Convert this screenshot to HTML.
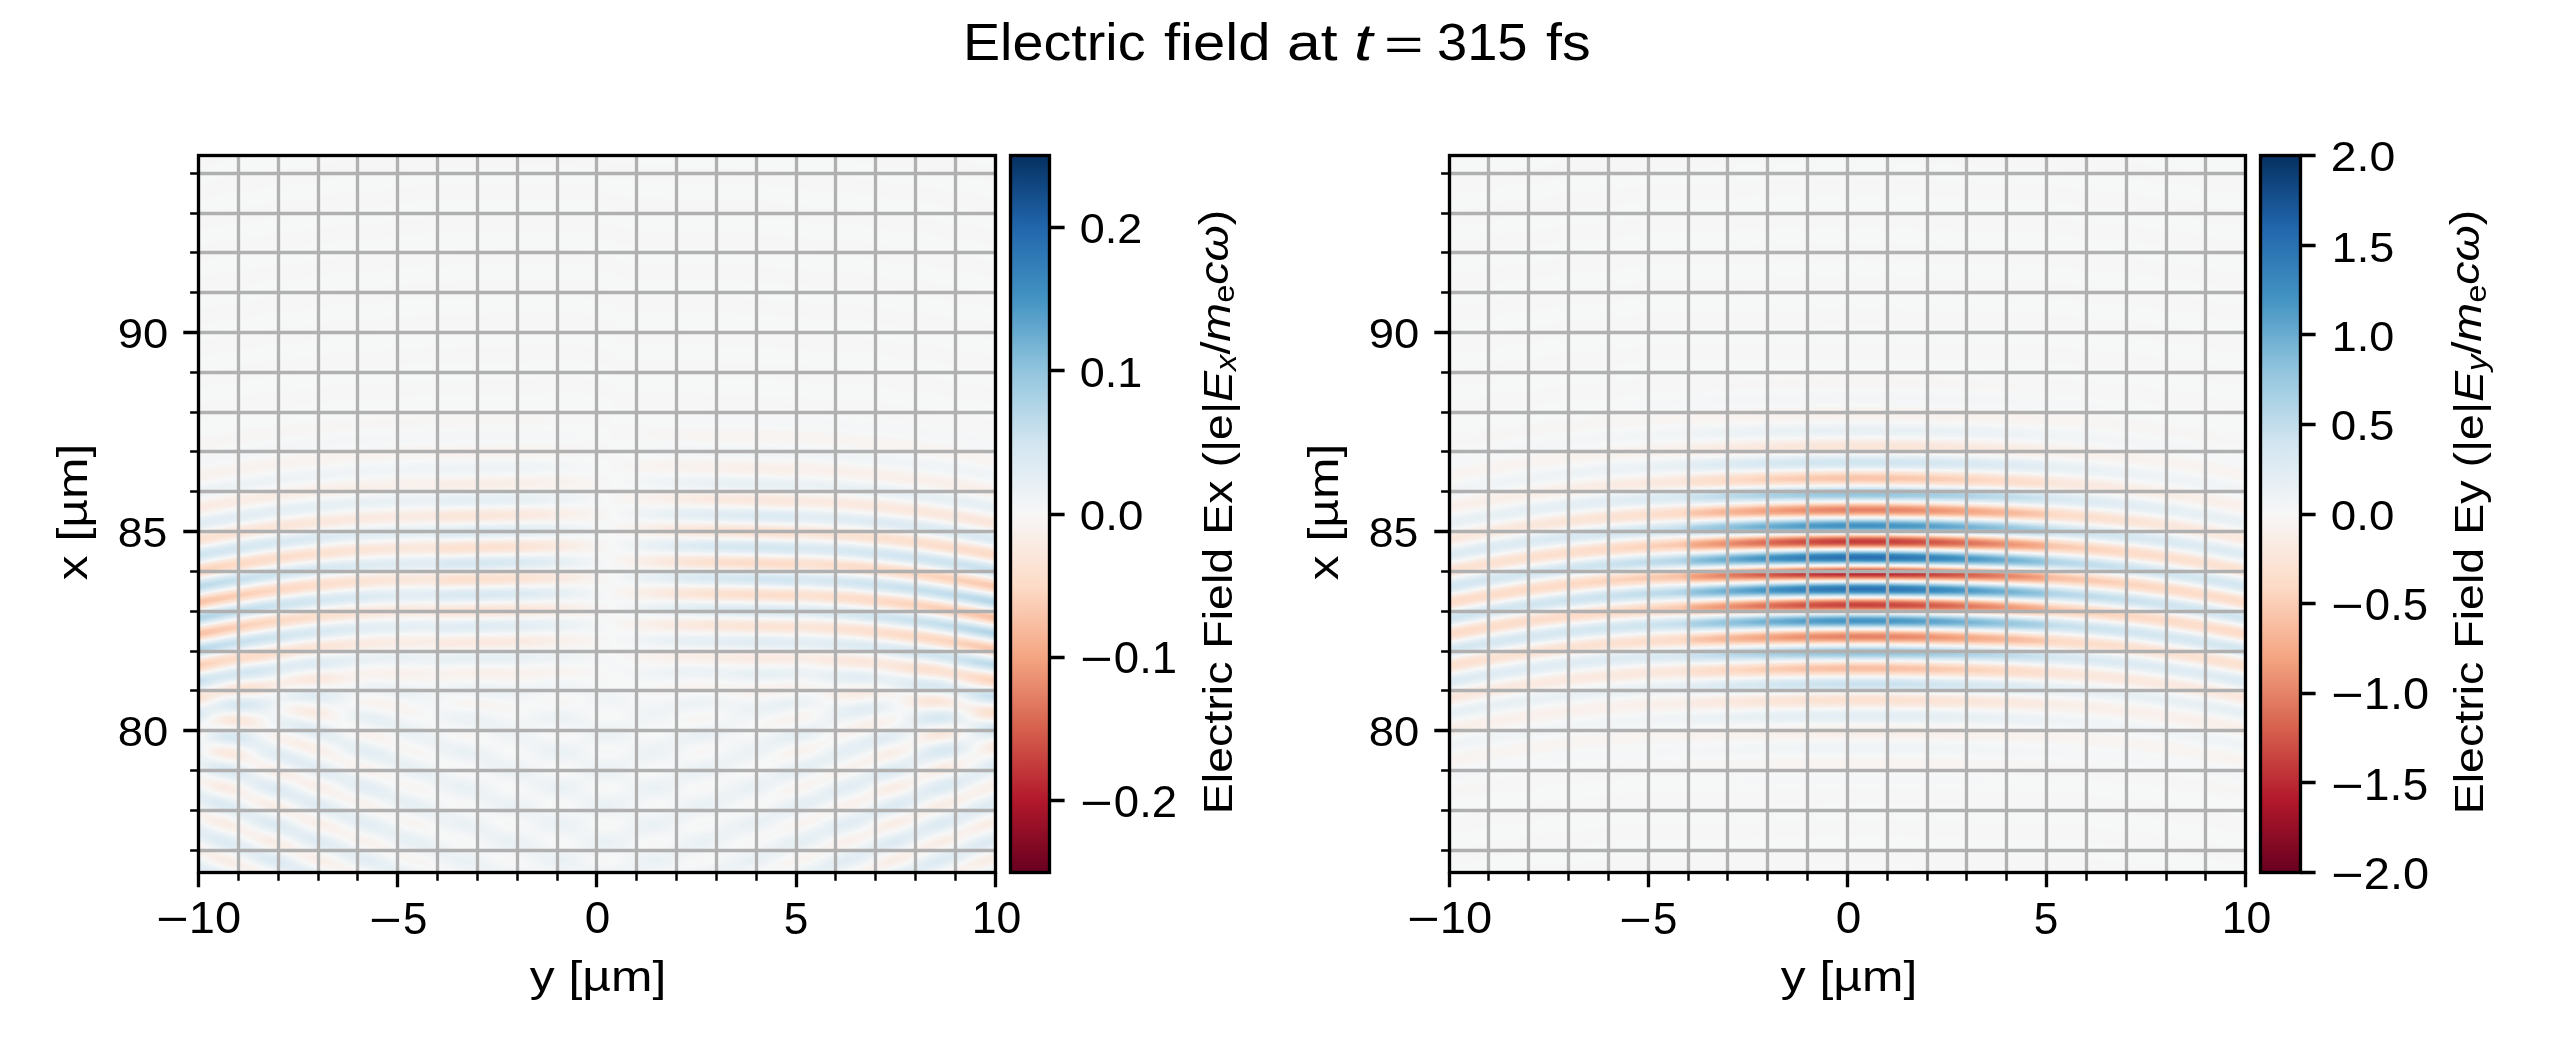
<!DOCTYPE html><html><head><meta charset="utf-8"><title>Electric field at t = 315 fs</title><style>
html,body{margin:0;padding:0;background:#fff;width:2550px;height:1050px;overflow:hidden}
#w{position:relative;width:2550px;height:1050px;background:#fff}
canvas{position:absolute;display:block}
svg{position:absolute;left:0;top:0}
text{font-family:"Liberation Sans",sans-serif;fill:#000}
.it{font-style:italic}
</style></head><body><div id="w">
<svg width="2550" height="1050" style="position:absolute;left:0;top:0"><defs><filter id="fbb" x="0" y="-0.5" width="1" height="2"><feGaussianBlur stdDeviation="0 3.0"/></filter><linearGradient id="fg0" x1="0" y1="0" x2="1" y2="0"><stop offset="0.000" stop-color="#f7f7f7"/><stop offset="0.050" stop-color="#f7f6f6"/><stop offset="0.100" stop-color="#f7f6f5"/><stop offset="0.150" stop-color="#f8f4f3"/><stop offset="0.200" stop-color="#f8f2ef"/><stop offset="0.250" stop-color="#f9f0ea"/><stop offset="0.300" stop-color="#f9ece4"/><stop offset="0.350" stop-color="#fae8dd"/><stop offset="0.400" stop-color="#fbe4d6"/><stop offset="0.450" stop-color="#fce1d1"/><stop offset="0.500" stop-color="#fcdfce"/><stop offset="0.550" stop-color="#fce0cf"/><stop offset="0.600" stop-color="#fce2d3"/><stop offset="0.650" stop-color="#fbe5d9"/><stop offset="0.700" stop-color="#faeae0"/><stop offset="0.750" stop-color="#f9eee7"/><stop offset="0.800" stop-color="#f8f1ec"/><stop offset="0.850" stop-color="#f8f3f1"/><stop offset="0.900" stop-color="#f7f5f4"/><stop offset="0.950" stop-color="#f7f6f5"/><stop offset="1.000" stop-color="#f7f7f6"/></linearGradient><linearGradient id="fg1" x1="0" y1="0" x2="1" y2="0"><stop offset="0.000" stop-color="#f6f7f7"/><stop offset="0.050" stop-color="#f6f6f7"/><stop offset="0.100" stop-color="#f4f6f7"/><stop offset="0.150" stop-color="#f2f5f6"/><stop offset="0.200" stop-color="#eef3f5"/><stop offset="0.250" stop-color="#e9f0f4"/><stop offset="0.300" stop-color="#e1edf3"/><stop offset="0.350" stop-color="#d9e9f2"/><stop offset="0.400" stop-color="#d2e5f0"/><stop offset="0.450" stop-color="#c8e0ed"/><stop offset="0.500" stop-color="#c3deec"/><stop offset="0.550" stop-color="#c4deec"/><stop offset="0.600" stop-color="#cbe2ee"/><stop offset="0.650" stop-color="#d5e7f1"/><stop offset="0.700" stop-color="#ddebf2"/><stop offset="0.750" stop-color="#e4eef4"/><stop offset="0.800" stop-color="#ebf1f5"/><stop offset="0.850" stop-color="#f0f4f6"/><stop offset="0.900" stop-color="#f3f5f6"/><stop offset="0.950" stop-color="#f5f6f7"/><stop offset="1.000" stop-color="#f6f7f7"/></linearGradient><linearGradient id="fg2" x1="0" y1="0" x2="1" y2="0"><stop offset="0.000" stop-color="#f7f6f6"/><stop offset="0.050" stop-color="#f7f6f5"/><stop offset="0.100" stop-color="#f8f4f2"/><stop offset="0.150" stop-color="#f8f2ee"/><stop offset="0.200" stop-color="#f9eee7"/><stop offset="0.250" stop-color="#fae8de"/><stop offset="0.300" stop-color="#fce1d1"/><stop offset="0.350" stop-color="#fcd7c2"/><stop offset="0.400" stop-color="#fac8ae"/><stop offset="0.450" stop-color="#f8bc9f"/><stop offset="0.500" stop-color="#f7b698"/><stop offset="0.550" stop-color="#f7b79a"/><stop offset="0.600" stop-color="#f8c0a4"/><stop offset="0.650" stop-color="#fbceb6"/><stop offset="0.700" stop-color="#fddcc9"/><stop offset="0.750" stop-color="#fbe4d7"/><stop offset="0.800" stop-color="#faebe2"/><stop offset="0.850" stop-color="#f9f0ea"/><stop offset="0.900" stop-color="#f8f3f0"/><stop offset="0.950" stop-color="#f7f5f4"/><stop offset="1.000" stop-color="#f7f6f5"/></linearGradient><linearGradient id="fg3" x1="0" y1="0" x2="1" y2="0"><stop offset="0.000" stop-color="#f6f7f7"/><stop offset="0.050" stop-color="#f5f6f7"/><stop offset="0.100" stop-color="#f2f5f6"/><stop offset="0.150" stop-color="#eef3f5"/><stop offset="0.200" stop-color="#e7eff4"/><stop offset="0.250" stop-color="#ddebf2"/><stop offset="0.300" stop-color="#cfe4ef"/><stop offset="0.350" stop-color="#b7d8e9"/><stop offset="0.400" stop-color="#9fcce2"/><stop offset="0.450" stop-color="#8cc1dc"/><stop offset="0.500" stop-color="#81bad8"/><stop offset="0.550" stop-color="#84bcd9"/><stop offset="0.600" stop-color="#94c6de"/><stop offset="0.650" stop-color="#a8d0e4"/><stop offset="0.700" stop-color="#c1ddeb"/><stop offset="0.750" stop-color="#d5e7f1"/><stop offset="0.800" stop-color="#e1edf3"/><stop offset="0.850" stop-color="#eaf1f5"/><stop offset="0.900" stop-color="#f0f4f6"/><stop offset="0.950" stop-color="#f3f5f6"/><stop offset="1.000" stop-color="#f5f6f7"/></linearGradient><linearGradient id="fg4" x1="0" y1="0" x2="1" y2="0"><stop offset="0.000" stop-color="#f7f6f5"/><stop offset="0.050" stop-color="#f7f5f3"/><stop offset="0.100" stop-color="#f8f3ef"/><stop offset="0.150" stop-color="#f9efe8"/><stop offset="0.200" stop-color="#fae8dd"/><stop offset="0.250" stop-color="#fcdfcd"/><stop offset="0.300" stop-color="#facbb3"/><stop offset="0.350" stop-color="#f6b192"/><stop offset="0.400" stop-color="#ed9475"/><stop offset="0.450" stop-color="#e27b62"/><stop offset="0.500" stop-color="#dd6f59"/><stop offset="0.550" stop-color="#de725b"/><stop offset="0.600" stop-color="#e68469"/><stop offset="0.650" stop-color="#f2a17f"/><stop offset="0.700" stop-color="#f8bc9f"/><stop offset="0.750" stop-color="#fcd5bf"/><stop offset="0.800" stop-color="#fbe3d4"/><stop offset="0.850" stop-color="#faebe2"/><stop offset="0.900" stop-color="#f8f0ec"/><stop offset="0.950" stop-color="#f8f4f1"/><stop offset="1.000" stop-color="#f7f5f4"/></linearGradient><linearGradient id="fg5" x1="0" y1="0" x2="1" y2="0"><stop offset="0.000" stop-color="#f5f6f7"/><stop offset="0.050" stop-color="#f4f5f6"/><stop offset="0.100" stop-color="#f0f4f6"/><stop offset="0.150" stop-color="#e9f0f4"/><stop offset="0.200" stop-color="#dfebf3"/><stop offset="0.250" stop-color="#cfe4ef"/><stop offset="0.300" stop-color="#afd4e6"/><stop offset="0.350" stop-color="#88bfdb"/><stop offset="0.400" stop-color="#5ca3cc"/><stop offset="0.450" stop-color="#3f8ec0"/><stop offset="0.500" stop-color="#3884bb"/><stop offset="0.550" stop-color="#3a87bd"/><stop offset="0.600" stop-color="#4695c4"/><stop offset="0.650" stop-color="#6daed1"/><stop offset="0.700" stop-color="#99c9e0"/><stop offset="0.750" stop-color="#bcdaea"/><stop offset="0.800" stop-color="#d6e7f1"/><stop offset="0.850" stop-color="#e3eef3"/><stop offset="0.900" stop-color="#ecf2f5"/><stop offset="0.950" stop-color="#f2f4f6"/><stop offset="1.000" stop-color="#f4f6f7"/></linearGradient><linearGradient id="fg6" x1="0" y1="0" x2="1" y2="0"><stop offset="0.000" stop-color="#f7f6f5"/><stop offset="0.050" stop-color="#f8f4f2"/><stop offset="0.100" stop-color="#f8f1ed"/><stop offset="0.150" stop-color="#f9ebe3"/><stop offset="0.200" stop-color="#fbe3d4"/><stop offset="0.250" stop-color="#fbd1ba"/><stop offset="0.300" stop-color="#f6b292"/><stop offset="0.350" stop-color="#e7886c"/><stop offset="0.400" stop-color="#d45c4b"/><stop offset="0.450" stop-color="#c2383a"/><stop offset="0.500" stop-color="#b92732"/><stop offset="0.550" stop-color="#bc2b34"/><stop offset="0.600" stop-color="#c84540"/><stop offset="0.650" stop-color="#dc6d57"/><stop offset="0.700" stop-color="#ef9a7a"/><stop offset="0.750" stop-color="#f8bfa3"/><stop offset="0.800" stop-color="#fddbc8"/><stop offset="0.850" stop-color="#fbe7db"/><stop offset="0.900" stop-color="#f9eee8"/><stop offset="0.950" stop-color="#f8f2ef"/><stop offset="1.000" stop-color="#f7f5f3"/></linearGradient><linearGradient id="fg7" x1="0" y1="0" x2="1" y2="0"><stop offset="0.000" stop-color="#f5f6f7"/><stop offset="0.050" stop-color="#f3f5f6"/><stop offset="0.100" stop-color="#eef3f5"/><stop offset="0.150" stop-color="#e6eff4"/><stop offset="0.200" stop-color="#d9e9f1"/><stop offset="0.250" stop-color="#bfdceb"/><stop offset="0.300" stop-color="#97c8df"/><stop offset="0.350" stop-color="#60a5cd"/><stop offset="0.400" stop-color="#3884bb"/><stop offset="0.450" stop-color="#266caf"/><stop offset="0.500" stop-color="#1d5fa2"/><stop offset="0.550" stop-color="#1f63a7"/><stop offset="0.600" stop-color="#2c75b3"/><stop offset="0.650" stop-color="#4190c2"/><stop offset="0.700" stop-color="#77b4d5"/><stop offset="0.750" stop-color="#a8d0e4"/><stop offset="0.800" stop-color="#cce3ef"/><stop offset="0.850" stop-color="#dfebf3"/><stop offset="0.900" stop-color="#eaf1f5"/><stop offset="0.950" stop-color="#f0f4f6"/><stop offset="1.000" stop-color="#f4f6f6"/></linearGradient><linearGradient id="fg8" x1="0" y1="0" x2="1" y2="0"><stop offset="0.000" stop-color="#f7f6f5"/><stop offset="0.050" stop-color="#f8f4f1"/><stop offset="0.100" stop-color="#f8f0eb"/><stop offset="0.150" stop-color="#faeae1"/><stop offset="0.200" stop-color="#fce0cf"/><stop offset="0.250" stop-color="#fac9b0"/><stop offset="0.300" stop-color="#f4a583"/><stop offset="0.350" stop-color="#de725b"/><stop offset="0.400" stop-color="#c63f3e"/><stop offset="0.450" stop-color="#b1182b"/><stop offset="0.500" stop-color="#9c1128"/><stop offset="0.550" stop-color="#a21328"/><stop offset="0.600" stop-color="#b92531"/><stop offset="0.650" stop-color="#d05347"/><stop offset="0.700" stop-color="#e7876b"/><stop offset="0.750" stop-color="#f7b496"/><stop offset="0.800" stop-color="#fcd5bf"/><stop offset="0.850" stop-color="#fbe4d7"/><stop offset="0.900" stop-color="#f9ede6"/><stop offset="0.950" stop-color="#f8f2ee"/><stop offset="1.000" stop-color="#f8f5f3"/></linearGradient><linearGradient id="fg9" x1="0" y1="0" x2="1" y2="0"><stop offset="0.000" stop-color="#f5f6f7"/><stop offset="0.050" stop-color="#f3f5f6"/><stop offset="0.100" stop-color="#eef3f5"/><stop offset="0.150" stop-color="#e5eff4"/><stop offset="0.200" stop-color="#d8e8f1"/><stop offset="0.250" stop-color="#bddbea"/><stop offset="0.300" stop-color="#94c6df"/><stop offset="0.350" stop-color="#5ba2cb"/><stop offset="0.400" stop-color="#3581ba"/><stop offset="0.450" stop-color="#2268ad"/><stop offset="0.500" stop-color="#1b5a9b"/><stop offset="0.550" stop-color="#1d5da0"/><stop offset="0.600" stop-color="#2971b1"/><stop offset="0.650" stop-color="#3e8dc0"/><stop offset="0.700" stop-color="#72b1d3"/><stop offset="0.750" stop-color="#a5cfe4"/><stop offset="0.800" stop-color="#cbe2ee"/><stop offset="0.850" stop-color="#deebf2"/><stop offset="0.900" stop-color="#e9f1f4"/><stop offset="0.950" stop-color="#f0f4f6"/><stop offset="1.000" stop-color="#f4f5f6"/></linearGradient><linearGradient id="fg10" x1="0" y1="0" x2="1" y2="0"><stop offset="0.000" stop-color="#f7f6f5"/><stop offset="0.050" stop-color="#f8f4f2"/><stop offset="0.100" stop-color="#f8f1ec"/><stop offset="0.150" stop-color="#faebe2"/><stop offset="0.200" stop-color="#fce2d3"/><stop offset="0.250" stop-color="#fbcfb8"/><stop offset="0.300" stop-color="#f6ae8e"/><stop offset="0.350" stop-color="#e58267"/><stop offset="0.400" stop-color="#d05447"/><stop offset="0.450" stop-color="#be2f36"/><stop offset="0.500" stop-color="#b41d2d"/><stop offset="0.550" stop-color="#b72230"/><stop offset="0.600" stop-color="#c43c3c"/><stop offset="0.650" stop-color="#d96652"/><stop offset="0.700" stop-color="#ed9576"/><stop offset="0.750" stop-color="#f8bca0"/><stop offset="0.800" stop-color="#fddac6"/><stop offset="0.850" stop-color="#fbe6da"/><stop offset="0.900" stop-color="#f9eee7"/><stop offset="0.950" stop-color="#f8f2ef"/><stop offset="1.000" stop-color="#f7f5f3"/></linearGradient><linearGradient id="fg11" x1="0" y1="0" x2="1" y2="0"><stop offset="0.000" stop-color="#f5f6f7"/><stop offset="0.050" stop-color="#f3f5f6"/><stop offset="0.100" stop-color="#f0f3f6"/><stop offset="0.150" stop-color="#e9f0f4"/><stop offset="0.200" stop-color="#deebf2"/><stop offset="0.250" stop-color="#cde3ef"/><stop offset="0.300" stop-color="#abd2e5"/><stop offset="0.350" stop-color="#83bbd9"/><stop offset="0.400" stop-color="#559fc9"/><stop offset="0.450" stop-color="#3c89be"/><stop offset="0.500" stop-color="#347fb9"/><stop offset="0.550" stop-color="#3682ba"/><stop offset="0.600" stop-color="#4190c2"/><stop offset="0.650" stop-color="#67aacf"/><stop offset="0.700" stop-color="#95c7df"/><stop offset="0.750" stop-color="#b9d9e9"/><stop offset="0.800" stop-color="#d5e7f1"/><stop offset="0.850" stop-color="#e3edf3"/><stop offset="0.900" stop-color="#ecf2f5"/><stop offset="0.950" stop-color="#f1f4f6"/><stop offset="1.000" stop-color="#f4f6f7"/></linearGradient><linearGradient id="fg12" x1="0" y1="0" x2="1" y2="0"><stop offset="0.000" stop-color="#f7f6f5"/><stop offset="0.050" stop-color="#f7f5f3"/><stop offset="0.100" stop-color="#f8f2ef"/><stop offset="0.150" stop-color="#f9eee8"/><stop offset="0.200" stop-color="#fae8dd"/><stop offset="0.250" stop-color="#fcdecd"/><stop offset="0.300" stop-color="#facab1"/><stop offset="0.350" stop-color="#f6b08f"/><stop offset="0.400" stop-color="#ec9273"/><stop offset="0.450" stop-color="#e17860"/><stop offset="0.500" stop-color="#db6c56"/><stop offset="0.550" stop-color="#dc6f58"/><stop offset="0.600" stop-color="#e48167"/><stop offset="0.650" stop-color="#f19e7d"/><stop offset="0.700" stop-color="#f8ba9d"/><stop offset="0.750" stop-color="#fcd4be"/><stop offset="0.800" stop-color="#fbe2d4"/><stop offset="0.850" stop-color="#faebe2"/><stop offset="0.900" stop-color="#f8f0eb"/><stop offset="0.950" stop-color="#f8f4f1"/><stop offset="1.000" stop-color="#f7f5f4"/></linearGradient><linearGradient id="fg13" x1="0" y1="0" x2="1" y2="0"><stop offset="0.000" stop-color="#f6f7f7"/><stop offset="0.050" stop-color="#f5f6f7"/><stop offset="0.100" stop-color="#f2f5f6"/><stop offset="0.150" stop-color="#eef3f5"/><stop offset="0.200" stop-color="#e7eff4"/><stop offset="0.250" stop-color="#ddebf2"/><stop offset="0.300" stop-color="#d0e4f0"/><stop offset="0.350" stop-color="#b8d8e9"/><stop offset="0.400" stop-color="#a1cce2"/><stop offset="0.450" stop-color="#8ec2dd"/><stop offset="0.500" stop-color="#83bbd9"/><stop offset="0.550" stop-color="#86bdda"/><stop offset="0.600" stop-color="#95c7df"/><stop offset="0.650" stop-color="#aad1e5"/><stop offset="0.700" stop-color="#c2ddec"/><stop offset="0.750" stop-color="#d6e7f1"/><stop offset="0.800" stop-color="#e1edf3"/><stop offset="0.850" stop-color="#eaf1f5"/><stop offset="0.900" stop-color="#f0f4f6"/><stop offset="0.950" stop-color="#f3f5f6"/><stop offset="1.000" stop-color="#f5f6f7"/></linearGradient><linearGradient id="fg14" x1="0" y1="0" x2="1" y2="0"><stop offset="0.000" stop-color="#f7f6f6"/><stop offset="0.050" stop-color="#f7f6f5"/><stop offset="0.100" stop-color="#f8f4f3"/><stop offset="0.150" stop-color="#f8f2ef"/><stop offset="0.200" stop-color="#f9eee8"/><stop offset="0.250" stop-color="#fae9df"/><stop offset="0.300" stop-color="#fbe2d3"/><stop offset="0.350" stop-color="#fddac6"/><stop offset="0.400" stop-color="#facbb3"/><stop offset="0.450" stop-color="#f9c0a5"/><stop offset="0.500" stop-color="#f8bb9e"/><stop offset="0.550" stop-color="#f8bc9f"/><stop offset="0.600" stop-color="#f9c4aa"/><stop offset="0.650" stop-color="#fbd1ba"/><stop offset="0.700" stop-color="#fcdecb"/><stop offset="0.750" stop-color="#fbe5d8"/><stop offset="0.800" stop-color="#f9ebe3"/><stop offset="0.850" stop-color="#f8f0eb"/><stop offset="0.900" stop-color="#f8f3f0"/><stop offset="0.950" stop-color="#f7f5f4"/><stop offset="1.000" stop-color="#f7f6f5"/></linearGradient><linearGradient id="fg15" x1="0" y1="0" x2="1" y2="0"><stop offset="0.000" stop-color="#f6f7f7"/><stop offset="0.050" stop-color="#f6f6f7"/><stop offset="0.100" stop-color="#f5f6f7"/><stop offset="0.150" stop-color="#f2f5f6"/><stop offset="0.200" stop-color="#eff3f6"/><stop offset="0.250" stop-color="#eaf1f5"/><stop offset="0.300" stop-color="#e4eef3"/><stop offset="0.350" stop-color="#dceaf2"/><stop offset="0.400" stop-color="#d5e7f1"/><stop offset="0.450" stop-color="#cfe4f0"/><stop offset="0.500" stop-color="#cbe2ee"/><stop offset="0.550" stop-color="#cce2ef"/><stop offset="0.600" stop-color="#d2e5f0"/><stop offset="0.650" stop-color="#d8e8f1"/><stop offset="0.700" stop-color="#dfecf3"/><stop offset="0.750" stop-color="#e6eff4"/><stop offset="0.800" stop-color="#ecf2f5"/><stop offset="0.850" stop-color="#f1f4f6"/><stop offset="0.900" stop-color="#f3f5f6"/><stop offset="0.950" stop-color="#f5f6f7"/><stop offset="1.000" stop-color="#f6f7f7"/></linearGradient><linearGradient id="fg16" x1="0" y1="0" x2="1" y2="0"><stop offset="0.000" stop-color="#f7f7f7"/><stop offset="0.050" stop-color="#f7f6f6"/><stop offset="0.100" stop-color="#f7f6f5"/><stop offset="0.150" stop-color="#f7f5f3"/><stop offset="0.200" stop-color="#f8f3f0"/><stop offset="0.250" stop-color="#f8f1ec"/><stop offset="0.300" stop-color="#f9eee7"/><stop offset="0.350" stop-color="#faeae1"/><stop offset="0.400" stop-color="#fae7dc"/><stop offset="0.450" stop-color="#fbe4d7"/><stop offset="0.500" stop-color="#fbe3d5"/><stop offset="0.550" stop-color="#fbe3d5"/><stop offset="0.600" stop-color="#fbe5d9"/><stop offset="0.650" stop-color="#fae8de"/><stop offset="0.700" stop-color="#f9ece4"/><stop offset="0.750" stop-color="#f9efe9"/><stop offset="0.800" stop-color="#f8f2ee"/><stop offset="0.850" stop-color="#f8f4f2"/><stop offset="0.900" stop-color="#f7f5f4"/><stop offset="0.950" stop-color="#f7f6f6"/><stop offset="1.000" stop-color="#f7f7f6"/></linearGradient><linearGradient id="fg17" x1="0" y1="0" x2="1" y2="0"><stop offset="0.000" stop-color="#f7f7f7"/><stop offset="0.050" stop-color="#f7f7f7"/><stop offset="0.100" stop-color="#f6f7f7"/><stop offset="0.150" stop-color="#f5f6f7"/><stop offset="0.200" stop-color="#f4f6f6"/><stop offset="0.250" stop-color="#f2f5f6"/><stop offset="0.300" stop-color="#eff3f6"/><stop offset="0.350" stop-color="#edf2f5"/><stop offset="0.400" stop-color="#eaf1f5"/><stop offset="0.450" stop-color="#e8f0f4"/><stop offset="0.500" stop-color="#e7eff4"/><stop offset="0.550" stop-color="#e7eff4"/><stop offset="0.600" stop-color="#e8f0f4"/><stop offset="0.650" stop-color="#ebf1f5"/><stop offset="0.700" stop-color="#eef3f5"/><stop offset="0.750" stop-color="#f0f4f6"/><stop offset="0.800" stop-color="#f3f5f6"/><stop offset="0.850" stop-color="#f4f6f7"/><stop offset="0.900" stop-color="#f6f6f7"/><stop offset="0.950" stop-color="#f6f7f7"/><stop offset="1.000" stop-color="#f7f7f7"/></linearGradient><linearGradient id="fg18" x1="0" y1="0" x2="1" y2="0"><stop offset="0.000" stop-color="#f7f7f7"/><stop offset="0.050" stop-color="#f7f7f7"/><stop offset="0.100" stop-color="#f7f7f6"/><stop offset="0.150" stop-color="#f7f6f6"/><stop offset="0.200" stop-color="#f7f6f5"/><stop offset="0.250" stop-color="#f7f5f3"/><stop offset="0.300" stop-color="#f8f4f1"/><stop offset="0.350" stop-color="#f8f3ef"/><stop offset="0.400" stop-color="#f8f1ed"/><stop offset="0.450" stop-color="#f8f1ec"/><stop offset="0.500" stop-color="#f8f0eb"/><stop offset="0.550" stop-color="#f8f0eb"/><stop offset="0.600" stop-color="#f8f1ec"/><stop offset="0.650" stop-color="#f8f2ee"/><stop offset="0.700" stop-color="#f8f3f0"/><stop offset="0.750" stop-color="#f8f4f2"/><stop offset="0.800" stop-color="#f7f5f4"/><stop offset="0.850" stop-color="#f7f6f5"/><stop offset="0.900" stop-color="#f7f6f6"/><stop offset="0.950" stop-color="#f7f7f6"/><stop offset="1.000" stop-color="#f7f7f7"/></linearGradient></defs><rect x="198" y="155" width="798" height="718" fill="#f7f7f7"/><rect x="1449" y="155" width="797" height="718" fill="#f7f7f7"/><g filter="url(#fbb)"><rect x="1449" y="696.5" width="797" height="9.6" fill="url(#fg0)"/><rect x="1449" y="680.6" width="797" height="9.6" fill="url(#fg1)"/><rect x="1449" y="664.7" width="797" height="9.6" fill="url(#fg2)"/><rect x="1449" y="648.8" width="797" height="9.6" fill="url(#fg3)"/><rect x="1449" y="632.8" width="797" height="9.6" fill="url(#fg4)"/><rect x="1449" y="616.9" width="797" height="9.6" fill="url(#fg5)"/><rect x="1449" y="601.0" width="797" height="9.6" fill="url(#fg6)"/><rect x="1449" y="585.1" width="797" height="9.6" fill="url(#fg7)"/><rect x="1449" y="569.2" width="797" height="9.6" fill="url(#fg8)"/><rect x="1449" y="553.2" width="797" height="9.6" fill="url(#fg9)"/><rect x="1449" y="537.3" width="797" height="9.6" fill="url(#fg10)"/><rect x="1449" y="521.4" width="797" height="9.6" fill="url(#fg11)"/><rect x="1449" y="505.5" width="797" height="9.6" fill="url(#fg12)"/><rect x="1449" y="489.5" width="797" height="9.6" fill="url(#fg13)"/><rect x="1449" y="473.6" width="797" height="9.6" fill="url(#fg14)"/><rect x="1449" y="457.7" width="797" height="9.6" fill="url(#fg15)"/><rect x="1449" y="441.8" width="797" height="9.6" fill="url(#fg16)"/><rect x="1449" y="425.8" width="797" height="9.6" fill="url(#fg17)"/><rect x="1449" y="409.9" width="797" height="9.6" fill="url(#fg18)"/></g></svg>
<canvas id="cL" width="798" height="718" style="left:198px;top:155px;width:798px;height:718px"></canvas>
<canvas id="cR" width="797" height="718" style="left:1449px;top:155px;width:797px;height:718px"></canvas>
<svg width="2550" height="1050" viewBox="0 0 2550 1050">
<defs><linearGradient id="rdbu" x1="0" y1="1" x2="0" y2="0">
<stop offset="0.00" stop-color="#67001f"/>
<stop offset="0.10" stop-color="#b2182b"/>
<stop offset="0.20" stop-color="#d6604d"/>
<stop offset="0.30" stop-color="#f4a582"/>
<stop offset="0.40" stop-color="#fddbc7"/>
<stop offset="0.50" stop-color="#f7f7f7"/>
<stop offset="0.60" stop-color="#d1e5f0"/>
<stop offset="0.70" stop-color="#92c5de"/>
<stop offset="0.80" stop-color="#4393c3"/>
<stop offset="0.90" stop-color="#2166ac"/>
<stop offset="1.00" stop-color="#053061"/>
</linearGradient></defs>
<path d="M238.5 155.5V872.5M278.5 155.5V872.5M318.5 155.5V872.5M357.5 155.5V872.5M397.5 155.5V872.5M437.5 155.5V872.5M477.5 155.5V872.5M517.5 155.5V872.5M557.5 155.5V872.5M596.5 155.5V872.5M636.5 155.5V872.5M676.5 155.5V872.5M716.5 155.5V872.5M756.5 155.5V872.5M796.5 155.5V872.5M835.5 155.5V872.5M875.5 155.5V872.5M915.5 155.5V872.5M955.5 155.5V872.5M198.5 850.5H995.5M198.5 810.5H995.5M198.5 770.5H995.5M198.5 730.5H995.5M198.5 690.5H995.5M198.5 651.5H995.5M198.5 611.5H995.5M198.5 571.5H995.5M198.5 531.5H995.5M198.5 491.5H995.5M198.5 451.5H995.5M198.5 412.5H995.5M198.5 372.5H995.5M198.5 332.5H995.5M198.5 292.5H995.5M198.5 252.5H995.5M198.5 213.5H995.5M198.5 173.5H995.5" stroke="#b0b0b0" stroke-width="3.33" fill="none"/>
<path d="M198.5 872.5V887.3M397.5 872.5V887.3M596.5 872.5V887.3M796.5 872.5V887.3M995.5 872.5V887.3M198.5 730.5H183.3M198.5 531.5H183.3M198.5 332.5H183.3" stroke="#000" stroke-width="3.33" fill="none"/>
<path d="M238.5 872.5V880.7M278.5 872.5V880.7M318.5 872.5V880.7M357.5 872.5V880.7M437.5 872.5V880.7M477.5 872.5V880.7M517.5 872.5V880.7M557.5 872.5V880.7M636.5 872.5V880.7M676.5 872.5V880.7M716.5 872.5V880.7M756.5 872.5V880.7M835.5 872.5V880.7M875.5 872.5V880.7M915.5 872.5V880.7M955.5 872.5V880.7M198.5 850.5H190.1M198.5 810.5H190.1M198.5 770.5H190.1M198.5 690.5H190.1M198.5 651.5H190.1M198.5 611.5H190.1M198.5 571.5H190.1M198.5 491.5H190.1M198.5 451.5H190.1M198.5 412.5H190.1M198.5 372.5H190.1M198.5 292.5H190.1M198.5 252.5H190.1M198.5 213.5H190.1M198.5 173.5H190.1" stroke="#000" stroke-width="2.5" fill="none"/>
<rect x="198.5" y="155.5" width="797.0" height="717.0" fill="none" stroke="#000" stroke-width="3.33"/>
<rect x="1010.5" y="155.5" width="39.0" height="717.0" fill="url(#rdbu)" stroke="#000" stroke-width="3.33"/>
<path d="M1049.5 227.5H1064.6M1049.5 370.5H1064.6M1049.5 514.5H1064.6M1049.5 657.5H1064.6M1049.5 800.5H1064.6" stroke="#000" stroke-width="3.33" fill="none"/>
<path d="M1488.5 155.5V872.5M1528.5 155.5V872.5M1568.5 155.5V872.5M1608.5 155.5V872.5M1648.5 155.5V872.5M1688.5 155.5V872.5M1727.5 155.5V872.5M1767.5 155.5V872.5M1807.5 155.5V872.5M1847.5 155.5V872.5M1887.5 155.5V872.5M1927.5 155.5V872.5M1966.5 155.5V872.5M2006.5 155.5V872.5M2046.5 155.5V872.5M2086.5 155.5V872.5M2126.5 155.5V872.5M2166.5 155.5V872.5M2205.5 155.5V872.5M1449.5 850.5H2245.5M1449.5 810.5H2245.5M1449.5 770.5H2245.5M1449.5 730.5H2245.5M1449.5 690.5H2245.5M1449.5 651.5H2245.5M1449.5 611.5H2245.5M1449.5 571.5H2245.5M1449.5 531.5H2245.5M1449.5 491.5H2245.5M1449.5 451.5H2245.5M1449.5 412.5H2245.5M1449.5 372.5H2245.5M1449.5 332.5H2245.5M1449.5 292.5H2245.5M1449.5 252.5H2245.5M1449.5 213.5H2245.5M1449.5 173.5H2245.5" stroke="#b0b0b0" stroke-width="3.33" fill="none"/>
<path d="M1449.5 872.5V887.3M1648.5 872.5V887.3M1847.5 872.5V887.3M2046.5 872.5V887.3M2245.5 872.5V887.3M1449.5 730.5H1434.3M1449.5 531.5H1434.3M1449.5 332.5H1434.3" stroke="#000" stroke-width="3.33" fill="none"/>
<path d="M1488.5 872.5V880.7M1528.5 872.5V880.7M1568.5 872.5V880.7M1608.5 872.5V880.7M1688.5 872.5V880.7M1727.5 872.5V880.7M1767.5 872.5V880.7M1807.5 872.5V880.7M1887.5 872.5V880.7M1927.5 872.5V880.7M1966.5 872.5V880.7M2006.5 872.5V880.7M2086.5 872.5V880.7M2126.5 872.5V880.7M2166.5 872.5V880.7M2205.5 872.5V880.7M1449.5 850.5H1441.1M1449.5 810.5H1441.1M1449.5 770.5H1441.1M1449.5 690.5H1441.1M1449.5 651.5H1441.1M1449.5 611.5H1441.1M1449.5 571.5H1441.1M1449.5 491.5H1441.1M1449.5 451.5H1441.1M1449.5 412.5H1441.1M1449.5 372.5H1441.1M1449.5 292.5H1441.1M1449.5 252.5H1441.1M1449.5 213.5H1441.1M1449.5 173.5H1441.1" stroke="#000" stroke-width="2.5" fill="none"/>
<rect x="1449.5" y="155.5" width="796.0" height="717.0" fill="none" stroke="#000" stroke-width="3.33"/>
<rect x="2260.5" y="155.5" width="40.0" height="717.0" fill="url(#rdbu)" stroke="#000" stroke-width="3.33"/>
<path d="M2300.5 155.5H2315.6M2300.5 245.5H2315.6M2300.5 334.5H2315.6M2300.5 424.5H2315.6M2300.5 514.5H2315.6M2300.5 603.5H2315.6M2300.5 693.5H2315.6M2300.5 782.5H2315.6M2300.5 872.5H2315.6" stroke="#000" stroke-width="3.33" fill="none"/>
<text id="title_0" x="962.98" y="60.28" font-size="52.48" textLength="182.55" lengthAdjust="spacingAndGlyphs">Electric</text>
<text id="title_1" x="1163.98" y="60.28" font-size="52.48" textLength="106.55" lengthAdjust="spacingAndGlyphs">field</text>
<text id="title_2" x="1286.98" y="60.28" font-size="52.48" textLength="50.55" lengthAdjust="spacingAndGlyphs">at</text>
<text id="title_3" x="1353.98" y="60.28" font-size="52.48" textLength="18.55" lengthAdjust="spacingAndGlyphs"><tspan class="it">t</tspan></text>
<text id="title_4" x="1383.98" y="59.48" font-size="45.15" textLength="39.55" lengthAdjust="spacingAndGlyphs">=</text>
<text id="title_5" x="1436.98" y="60.28" font-size="52.48" textLength="90.55" lengthAdjust="spacingAndGlyphs">315</text>
<text id="title_6" x="1545.98" y="60.28" font-size="52.48" textLength="44.55" lengthAdjust="spacingAndGlyphs">fs</text>
<text id="yL_90" x="117.80" y="347.96" font-size="43.21" textLength="50.52" lengthAdjust="spacingAndGlyphs">90</text>
<text id="yR_90" x="1368.80" y="347.96" font-size="43.21" textLength="50.52" lengthAdjust="spacingAndGlyphs">90</text>
<text id="yL_85" x="117.80" y="546.96" font-size="43.21" textLength="49.52" lengthAdjust="spacingAndGlyphs">85</text>
<text id="yR_85" x="1368.80" y="546.96" font-size="43.21" textLength="49.52" lengthAdjust="spacingAndGlyphs">85</text>
<text id="yL_80" x="117.80" y="745.96" font-size="43.21" textLength="50.52" lengthAdjust="spacingAndGlyphs">80</text>
<text id="yR_80" x="1368.80" y="745.96" font-size="43.21" textLength="50.52" lengthAdjust="spacingAndGlyphs">80</text>
<text id="xL_-10_m" x="156.19" y="933.56" font-size="44.29" textLength="32.63" lengthAdjust="spacingAndGlyphs">−</text>
<text id="xL_-10_d" x="188.89" y="932.56" font-size="44.29" textLength="52.34" lengthAdjust="spacingAndGlyphs">10</text>
<text id="xR_-10_m" x="1407.19" y="933.56" font-size="44.29" textLength="32.63" lengthAdjust="spacingAndGlyphs">−</text>
<text id="xR_-10_d" x="1439.89" y="932.56" font-size="44.29" textLength="52.34" lengthAdjust="spacingAndGlyphs">10</text>
<text id="xL_-5_m" x="369.19" y="934.56" font-size="44.29" textLength="32.63" lengthAdjust="spacingAndGlyphs">−</text>
<text id="xL_-5_d" x="402.89" y="933.56" font-size="44.29" textLength="24.34" lengthAdjust="spacingAndGlyphs">5</text>
<text id="xR_-5_m" x="1619.19" y="934.56" font-size="44.29" textLength="32.63" lengthAdjust="spacingAndGlyphs">−</text>
<text id="xR_-5_d" x="1652.89" y="933.56" font-size="44.29" textLength="24.34" lengthAdjust="spacingAndGlyphs">5</text>
<text id="xL_0" x="584.79" y="932.56" font-size="44.29" textLength="25.54" lengthAdjust="spacingAndGlyphs">0</text>
<text id="xR_0" x="1835.79" y="932.56" font-size="44.29" textLength="25.54" lengthAdjust="spacingAndGlyphs">0</text>
<text id="xL_5" x="783.79" y="933.56" font-size="44.29" textLength="24.54" lengthAdjust="spacingAndGlyphs">5</text>
<text id="xR_5" x="2033.79" y="933.56" font-size="44.29" textLength="24.54" lengthAdjust="spacingAndGlyphs">5</text>
<text id="xL_10" x="971.79" y="932.56" font-size="44.29" textLength="49.54" lengthAdjust="spacingAndGlyphs">10</text>
<text id="xR_10" x="2221.79" y="932.56" font-size="44.29" textLength="49.54" lengthAdjust="spacingAndGlyphs">10</text>
<text id="xlabL" x="529.86" y="990.50" font-size="42.06" textLength="136.42" lengthAdjust="spacingAndGlyphs">y [µm]</text>
<text id="xlabR" x="1780.86" y="990.50" font-size="42.06" textLength="136.42" lengthAdjust="spacingAndGlyphs">y [µm]</text>
<text id="ylabL" x="87.05" y="580.15" font-size="43.01" textLength="136.44" lengthAdjust="spacingAndGlyphs" transform="rotate(-90 87.05 580.15)">x [µm]</text>
<text id="ylabR" x="1337.97" y="580.13" font-size="43.15" textLength="136.42" lengthAdjust="spacingAndGlyphs" transform="rotate(-90 1337.97 580.13)">x [µm]</text>
<text id="cL_0.2" x="1079.82" y="242.81" font-size="43.40" textLength="62.49" lengthAdjust="spacingAndGlyphs">0.2</text>
<text id="cL_0.1" x="1079.82" y="386.81" font-size="43.40" textLength="62.49" lengthAdjust="spacingAndGlyphs">0.1</text>
<text id="cL_0.0" x="1079.82" y="529.81" font-size="43.40" textLength="63.49" lengthAdjust="spacingAndGlyphs">0.0</text>
<text id="cL_-0.1_m" x="1080.18" y="673.91" font-size="44.43" textLength="32.64" lengthAdjust="spacingAndGlyphs">−</text>
<text id="cL_-0.1_d" x="1113.88" y="672.91" font-size="44.43" textLength="63.35" lengthAdjust="spacingAndGlyphs">0.1</text>
<text id="cL_-0.2_m" x="1080.18" y="817.91" font-size="44.43" textLength="32.64" lengthAdjust="spacingAndGlyphs">−</text>
<text id="cL_-0.2_d" x="1113.88" y="816.91" font-size="44.43" textLength="63.35" lengthAdjust="spacingAndGlyphs">0.2</text>
<text id="cR_2.0" x="2330.82" y="170.81" font-size="43.40" textLength="64.49" lengthAdjust="spacingAndGlyphs">2.0</text>
<text id="cR_1.5" x="2331.82" y="261.81" font-size="43.40" textLength="62.49" lengthAdjust="spacingAndGlyphs">1.5</text>
<text id="cR_1.0" x="2331.82" y="350.81" font-size="43.40" textLength="62.49" lengthAdjust="spacingAndGlyphs">1.0</text>
<text id="cR_0.5" x="2330.82" y="439.81" font-size="43.40" textLength="63.49" lengthAdjust="spacingAndGlyphs">0.5</text>
<text id="cR_0.0" x="2330.82" y="529.81" font-size="43.40" textLength="63.49" lengthAdjust="spacingAndGlyphs">0.0</text>
<text id="cR_-0.5_m" x="2331.18" y="620.91" font-size="44.43" textLength="32.64" lengthAdjust="spacingAndGlyphs">−</text>
<text id="cR_-0.5_d" x="2364.88" y="619.91" font-size="44.43" textLength="63.35" lengthAdjust="spacingAndGlyphs">0.5</text>
<text id="cR_-1.0_m" x="2331.18" y="709.91" font-size="44.43" textLength="32.64" lengthAdjust="spacingAndGlyphs">−</text>
<text id="cR_-1.0_d" x="2363.88" y="708.91" font-size="44.43" textLength="65.35" lengthAdjust="spacingAndGlyphs">1.0</text>
<text id="cR_-1.5_m" x="2331.18" y="800.91" font-size="44.43" textLength="32.64" lengthAdjust="spacingAndGlyphs">−</text>
<text id="cR_-1.5_d" x="2363.88" y="799.91" font-size="44.43" textLength="64.35" lengthAdjust="spacingAndGlyphs">1.5</text>
<text id="cR_-2.0_m" x="2331.18" y="889.91" font-size="44.43" textLength="32.64" lengthAdjust="spacingAndGlyphs">−</text>
<text id="cR_-2.0_d" x="2363.88" y="888.91" font-size="44.43" textLength="65.35" lengthAdjust="spacingAndGlyphs">2.0</text>
<text id="cblabL" x="1231.54" y="814.21" font-size="41.14" textLength="604.54" lengthAdjust="spacingAndGlyphs" transform="rotate(-90 1231.54 814.21)">Electric Field Ex (|e|<tspan class="it">E</tspan><tspan class="it" font-size="0.7em" dy="0.15em">x</tspan><tspan dy="-0.15em">/</tspan><tspan class="it">m</tspan><tspan font-size="0.7em" dy="0.15em">e</tspan><tspan class="it" dy="-0.15em">cω</tspan>)</text>
<text id="cblabR" x="2483.11" y="814.32" font-size="41.30" textLength="604.71" lengthAdjust="spacingAndGlyphs" transform="rotate(-90 2483.11 814.32)">Electric Field Ey (|e|<tspan class="it">E</tspan><tspan class="it" font-size="0.7em" dy="0.15em">y</tspan><tspan dy="-0.15em">/</tspan><tspan class="it">m</tspan><tspan font-size="0.7em" dy="0.15em">e</tspan><tspan class="it" dy="-0.15em">cω</tspan>)</text>
</svg></div>
<script>(function(){
var M={"comps": [[1.5, 0.3, 4.9, 2, 84.05, 2.3, 200, 92, 84.336, 0, 0, 2.6, [0.7, 0.5, 4.5, 0.04]], [1.0, 0.0, 0, 2, 84.0, 2.5, 40, 55, 84.53, 0.2, 0.2]], "streak": [0.022, 0.85, 0.38, 80.8, 0.5, 0.008, 0.15, 1.5]}, CV={"L": [198, 155, 798, 718], "R": [1449, 155, 797, 718]};
var C=[[103,0,31],[178,24,43],[214,96,77],[244,165,130],[253,219,199],[247,247,247],[209,229,240],[146,197,222],[67,147,195],[33,102,172],[5,48,97]];
var lut=[];for(var i=0;i<256;i++){var t=i/255*10,j=Math.min(9,Math.floor(t)),f=t-j;lut.push([0,1,2].map(function(c){return Math.round(C[j][c]+(C[j+1][c]-C[j][c])*f);}));}
var k=2*Math.PI/0.8;
function fld(Y,X,out){
  var ey=0,ex=0;
  for(var n=0;n<M.comps.length;n++){
    var p=M.comps[n],A=p[0],Y0=p[1],w=p[2],pw=p[3],c0=p[4],L=p[5],Renv=p[6],R=p[7],xi0=p[8],base=p[9],edge=p[10];
    var Yc=Y-Y0, xi=X+Yc*Yc/(2*R), xe=X+Yc*Yc/(2*Renv), tr, dtr;
    if(w>0){var u=Math.abs(Yc/w);tr=Math.exp(-Math.pow(u,pw));dtr=-pw*Math.pow(u,pw-1)*(Yc<0?-1:1)/w;
      if(p.length>12){var st=p[12],sf=st[0]+(1-st[0])/(1+Math.exp((Math.abs(Y-st[1])-st[2])/st[3]));tr*=sf;}}
    else{tr=base+edge*(Yc/10)*(Yc/10);dtr=2*edge*Yc/100/tr;}
    var Lx=(xe>c0)?L:(p.length>11?p[11]:L), q=(xe-c0)/Lx, a=A*tr*Math.exp(-q*q);
    var da=a*(dtr - 2*q/Lx*(Yc/Renv));
    var ph=k*(xi-xi0), cs=Math.cos(ph), sn=Math.sin(ph);
    ey+=a*cs; ex+=-(Yc/R)*a*cs-(da/k)*sn;
  }
  var s=M.streak;
  if(s){var As=s[0],ks=2*Math.PI/s[1],th=Math.atan(s[2]),ct=Math.cos(th),st=Math.sin(th);
    var env=1/(1+Math.exp((X-s[3])/s[4]));
    var u1=X*ct+Y*st,u2=X*ct-Y*st;
    var w1=s[6]+(1-s[6])/(1+Math.exp(Y/s[7])), w2=s[6]+(1-s[6])/(1+Math.exp(-Y/s[7]));
    var ay=Math.abs(Y), ramp=Math.min(1,Math.max(0.35,(ay-1.5)/6));
    var v=ramp*(w1*Math.cos(ks*u1)+w2*Math.cos(ks*u2+1.3));
    ex+=env*(As*v+s[5]);}
  out[0]=ey;out[1]=ex;
}
function draw(id,x0px,sc,which,vmax){
  var cv=document.getElementById('c'+id); if(!cv||!cv.getContext) return;
  var g=CV[id], w=g[2], h=g[3], ctx=cv.getContext('2d'), im=ctx.createImageData(w,h), d=im.data, o=[0,0];
  for(var j=0;j<h;j++){var py=g[1]+j+0.5, X=90-(py-332.52)/39.81;
    for(var i=0;i<w;i++){var px=g[0]+i+0.5, Y=-10+(px-x0px)/sc;
      fld(Y,X,o); var v=o[which], t=(v+vmax)/(2*vmax), idx=Math.floor(t*256); if(idx<0)idx=0; if(idx>255)idx=255;
      var c=lut[idx], p=(j*w+i)*4; d[p]=c[0];d[p+1]=c[1];d[p+2]=c[2];d[p+3]=255;}}
  ctx.putImageData(im,0,0);
}
draw('L',198.6,39.83,1,0.25);
draw('R',1449.1,39.83,0,2.0);
})();
</script>
</body></html>
